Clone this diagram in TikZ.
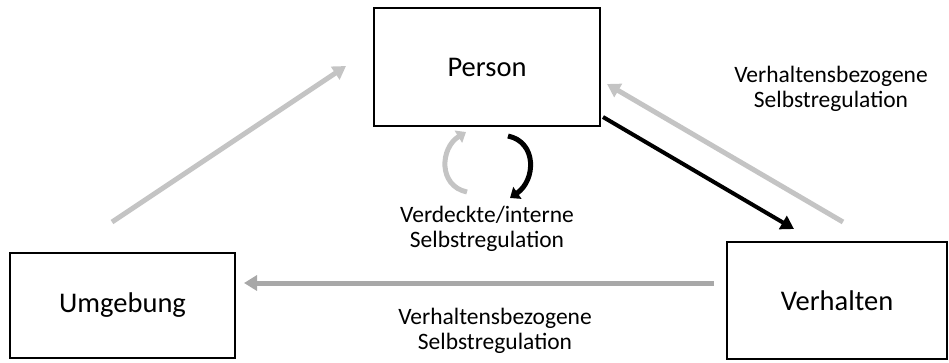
\documentclass[tikz,border=0pt]{standalone}
\usepackage{fontspec}
\setmainfont{Carlito}
\usetikzlibrary{positioning,arrows.meta}
\definecolor{softgray}{RGB}{196,196,196}
\definecolor{midgray}{RGB}{168,168,168}
\newcommand*{\lbl}{\fontsize{23.5}{25}\selectfont}

\begin{document}
\begin{tikzpicture}[x=1pt,y=-1pt,
  box/.style={draw,line width=1.3pt,fill=white,font=\fontsize{28.5}{32}\selectfont},
  note/.style={align=center,font=\lbl},
  grayarr/.style={softgray,line width=5pt,-{Triangle[length=13pt,width=15pt]}},
  blackarr/.style={black,line width=4pt,-{Triangle[length=13pt,width=15pt]}}]
\useasboundingbox (0,0) rectangle (949,362);
% The three boxes
\node [box,minimum width=226pt,minimum height=118pt] (person) at (487,67) {Person};
\node [box,minimum width=225pt,minimum height=105pt] (umgebung) at (122.5,305.5) {Umgebung};
\node [box,minimum width=220pt,minimum height=117pt] (verhalten) at (837,300.5) {Verhalten};
% Free ends of the arrows
\coordinate (ustart) at (112,222);
\coordinate (ptip) at (346,66);
\coordinate (pstart) at (603,117);
\coordinate (vtip) at (794,229);
\coordinate (vstart) at (843,222);
\coordinate (ptip2) at (607,84);
\coordinate (hstart) at (714,283);
\coordinate (htip) at (244,283);
% Arrows between the boxes
\draw [grayarr] (ustart) -- (ptip);
\draw [grayarr] (vstart) -- (ptip2);
\draw [blackarr] (pstart) -- (vtip);
\draw [grayarr,midgray] (hstart) -- (htip);
% Two small curved arrows under Person
\coordinate (g1) at (467,192);
\coordinate (g2) at (466,132);
\draw [softgray,line width=5pt,-{Triangle[length=9pt,width=14pt]}]
  (g1) .. controls (438,186) and (440,148) .. (g2);
\coordinate (b1) at (508,136);
\coordinate (b2) at (510,198);
\draw [black,line width=5pt,-{Triangle[length=9pt,width=14pt]}]
  (b1) .. controls (537,142) and (536,180) .. (b2);
% Labels
\node [note] (toplbl) at (831,89) {Verhaltensbezogene\\Selbstregulation};
\node [note] (midlbl) at (487,229) {Verdeckte/interne\\Selbstregulation};
\node [note] (botlbl) at (495,331) {Verhaltensbezogene\\Selbstregulation};
\end{tikzpicture}
\end{document}
